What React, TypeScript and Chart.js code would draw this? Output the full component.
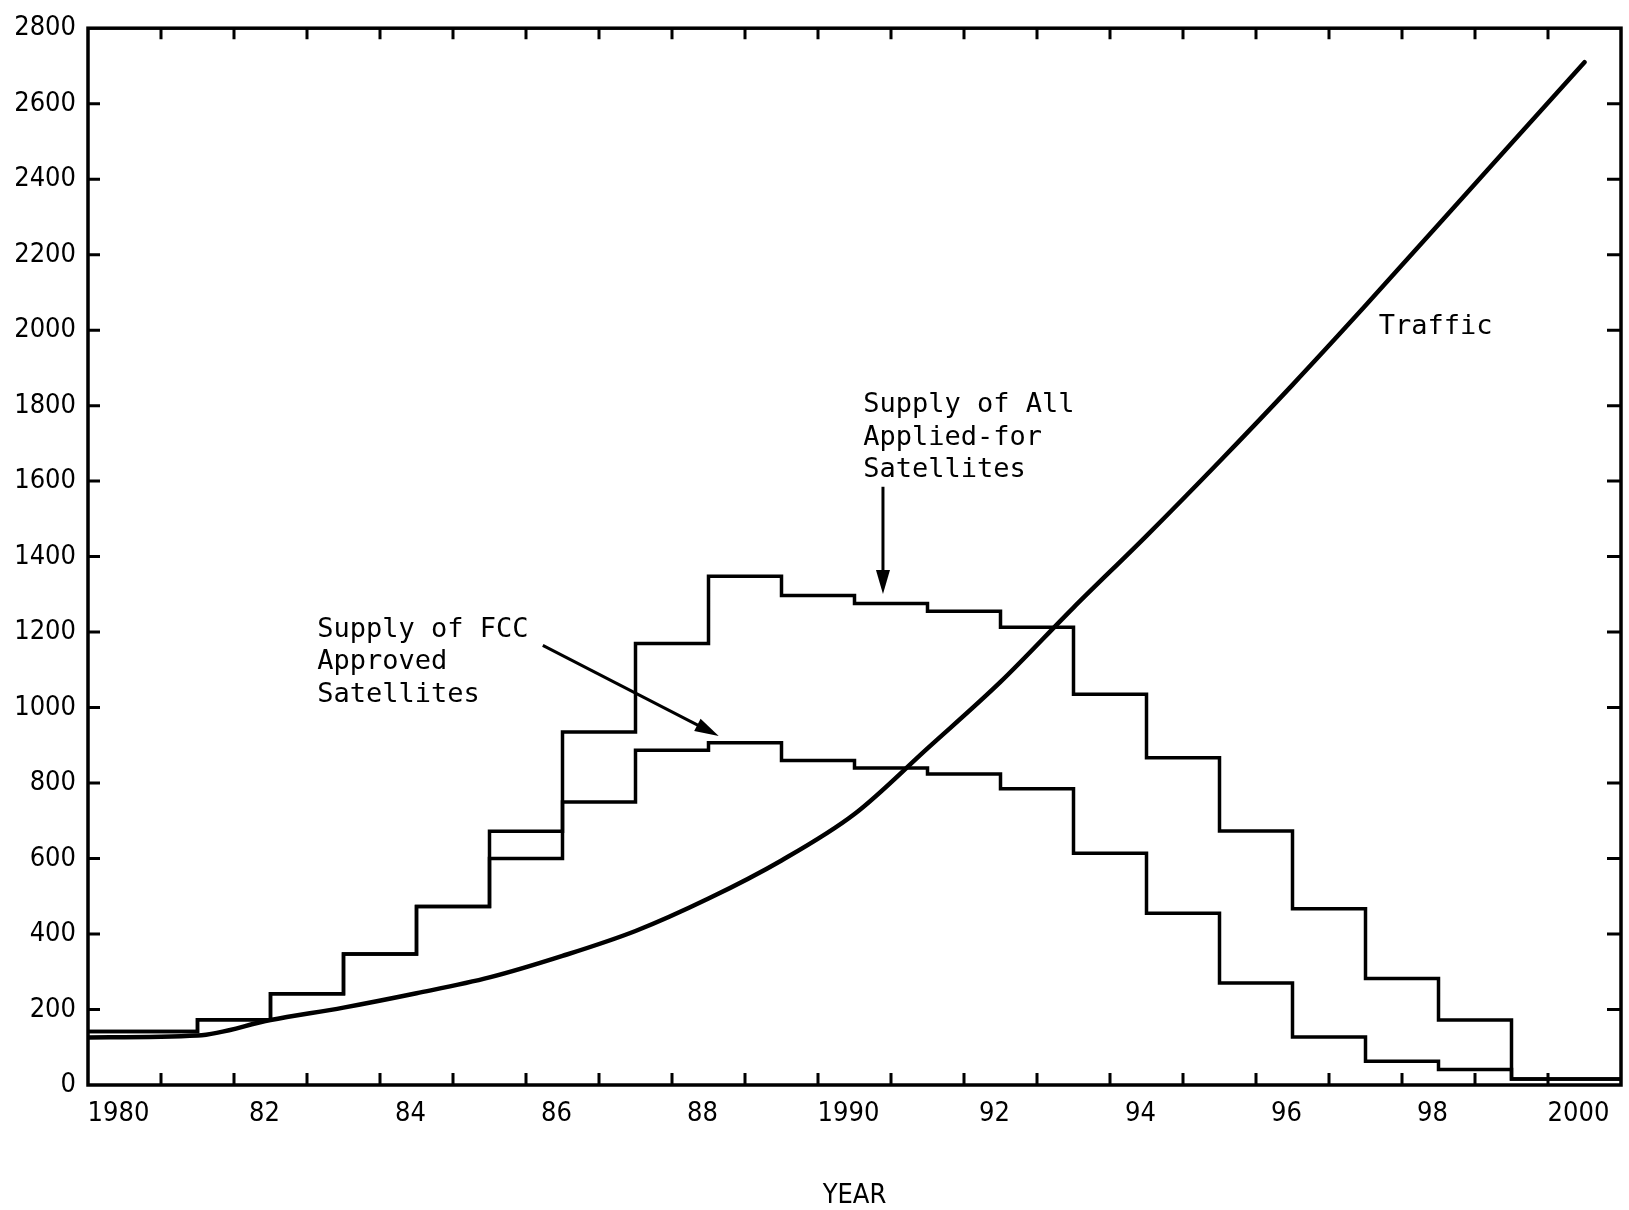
import React, { useEffect, useRef } from "react";
import { Chart, registerables } from "chart.js";

Chart.register(...registerables);

// Axis extent: the frame runs from mid-1979 to mid-2000
const X_MIN = 1979.5;
const X_MAX = 2000.5;
const Y_MIN = 0;
const Y_MAX = 2800;

const LABEL_YEARS = [1980, 1982, 1984, 1986, 1988, 1990, 1992, 1994, 1996, 1998, 2000];
const X_TICK_LABELS = ["1980", "82", "84", "86", "88", "1990", "92", "94", "96", "98", "2000"];
// inward tick marks sit between the years
const MINOR_TICK_YEARS = [
  1980.5, 1981.5, 1982.5, 1983.5, 1984.5, 1985.5, 1986.5, 1987.5, 1988.5, 1989.5,
  1990.5, 1991.5, 1992.5, 1993.5, 1994.5, 1995.5, 1996.5, 1997.5, 1998.5, 1999.5,
];
const Y_TICK_VALUES = [0, 200, 400, 600, 800, 1000, 1200, 1400, 1600, 1800, 2000, 2200, 2400, 2600, 2800];

// Supply per year: each value holds from its year until the next one
const STEP_YEARS = [
  1980, 1981, 1982, 1983, 1984, 1985, 1986, 1987, 1988, 1989,
  1990, 1991, 1992, 1993, 1994, 1995, 1996, 1997, 1998, 1999,
];
const APPLIED_SUPPLY = [
  142, 173, 242, 347, 473, 672, 935, 1170, 1348, 1297,
  1276, 1255, 1213, 1035, 867, 673, 467, 282, 172, 16,
];
const FCC_SUPPLY = [
  142, 173, 242, 347, 473, 600, 750, 887, 907, 860,
  840, 824, 785, 614, 455, 270, 127, 63, 41, 16,
];

const TRAFFIC_YEARS = [
  1980, 1981, 1982, 1983, 1984, 1985, 1986, 1987, 1988, 1989, 1990,
  1991, 1992, 1993, 1994, 1995, 1996, 1997, 1998, 1999, 2000,
];
const TRAFFIC = [
  126, 131, 172, 205, 243, 285, 342, 408, 494, 595, 718,
  892, 1068, 1265, 1455, 1652, 1855, 2065, 2280, 2495, 2710,
];

// Text notes, anchored in data units (left edge, first baseline)
const NOTES = [
  { x: 1997.18, y: 1990, lines: ["Traffic"] },
  { x: 1990.12, y: 1783, lines: ["Supply of All", "Applied-for", "Satellites"] },
  { x: 1982.64, y: 1188, lines: ["Supply of FCC", "Approved", "Satellites"] },
];
const ARROWS = [
  { from: [1990.39, 1585], to: [1990.39, 1301] },
  { from: [1985.73, 1165], to: [1988.14, 925] },
];

const AXIS_FAMILY = "'DejaVu Sans Condensed', 'Liberation Sans Narrow', 'Liberation Sans', sans-serif";
const NOTE_FONT = "27px 'DejaVu Sans Mono', 'Liberation Mono', monospace";
const NOTE_LINE_HEIGHT = 32.5;

// The 1980 entry starts at the left edge of the frame, the last one runs to the right edge
function stepPoints(years: number[], values: number[]) {
  const pts = years.map((yr, i) => ({ x: i === 0 ? X_MIN : yr, y: values[i] }));
  pts.push({ x: X_MAX, y: values[values.length - 1] });
  return pts;
}

function curvePoints(years: number[], values: number[]) {
  return years.map((yr, i) => ({ x: i === 0 ? X_MIN : yr, y: values[i] }));
}

function drawArrow(ctx: CanvasRenderingContext2D, x0: number, y0: number, x1: number, y1: number) {
  const ang = Math.atan2(y1 - y0, x1 - x0);
  const headLen = 24;
  const headHalf = 7;
  const bx = x1 - headLen * Math.cos(ang);
  const by = y1 - headLen * Math.sin(ang);
  ctx.beginPath();
  ctx.moveTo(x0, y0);
  ctx.lineTo(bx + 2 * Math.cos(ang), by + 2 * Math.sin(ang));
  ctx.stroke();
  ctx.beginPath();
  ctx.moveTo(x1, y1);
  ctx.lineTo(bx + headHalf * Math.sin(ang), by - headHalf * Math.cos(ang));
  ctx.lineTo(bx - headHalf * Math.sin(ang), by + headHalf * Math.cos(ang));
  ctx.closePath();
  ctx.fill();
}

// Boxed frame with inward tick marks, plus the text notes and arrows
const framePlugin = {
  id: "frameAndNotes",
  afterDatasetsDraw(chart: any) {
    const { ctx, chartArea: a } = chart;
    const xs = chart.scales.x;
    const ys = chart.scales.y;
    ctx.save();
    ctx.strokeStyle = "#000";
    ctx.fillStyle = "#000";
    ctx.lineWidth = 3.5;
    ctx.strokeRect(a.left, a.top, a.right - a.left, a.bottom - a.top);

    ctx.lineWidth = 3;
    ctx.beginPath();
    for (const yr of MINOR_TICK_YEARS) {
      const px = xs.getPixelForValue(yr);
      ctx.moveTo(px, a.bottom);
      ctx.lineTo(px, a.bottom - 12);
      ctx.moveTo(px, a.top);
      ctx.lineTo(px, a.top + 11);
    }
    for (const v of Y_TICK_VALUES) {
      if (v === Y_MIN || v === Y_MAX) continue;
      const py = ys.getPixelForValue(v);
      ctx.moveTo(a.left, py);
      ctx.lineTo(a.left + 12, py);
      ctx.moveTo(a.right, py);
      ctx.lineTo(a.right - 14, py);
    }
    ctx.stroke();

    ctx.font = NOTE_FONT;
    ctx.textAlign = "left";
    ctx.textBaseline = "alphabetic";
    for (const note of NOTES) {
      const px = xs.getPixelForValue(note.x);
      const py = ys.getPixelForValue(note.y);
      note.lines.forEach((line, i) => ctx.fillText(line, px, py + i * NOTE_LINE_HEIGHT));
    }

    ctx.lineWidth = 3;
    for (const arr of ARROWS) {
      drawArrow(
        ctx,
        xs.getPixelForValue(arr.from[0]),
        ys.getPixelForValue(arr.from[1]),
        xs.getPixelForValue(arr.to[0]),
        ys.getPixelForValue(arr.to[1])
      );
    }
    ctx.restore();
  },
};

export default function App() {
  const canvasRef = useRef<HTMLCanvasElement>(null);

  useEffect(() => {
    const canvas = canvasRef.current;
    if (!canvas) return;
    const chart = new Chart(canvas, {
      type: "line",
      data: {
        datasets: [
          {
            label: "Supply of All Applied-for Satellites",
            data: stepPoints(STEP_YEARS, APPLIED_SUPPLY),
            stepped: "before",
            borderColor: "#000",
            borderWidth: 3.5,
            pointRadius: 0,
            fill: false,
          },
          {
            label: "Supply of FCC Approved Satellites",
            data: stepPoints(STEP_YEARS, FCC_SUPPLY),
            stepped: "before",
            borderColor: "#000",
            borderWidth: 3.5,
            pointRadius: 0,
            fill: false,
          },
          {
            label: "Traffic",
            data: curvePoints(TRAFFIC_YEARS, TRAFFIC),
            cubicInterpolationMode: "monotone",
            borderColor: "#000",
            borderWidth: 4.5,
            borderCapStyle: "round",
            pointRadius: 0,
            fill: false,
          },
        ],
      },
      options: {
        animation: false,
        responsive: false,
        events: [],
        layout: { padding: { left: 0, right: 8, top: 20, bottom: 0 } },
        plugins: {
          legend: { display: false },
          tooltip: { enabled: false },
        },
        scales: {
          x: {
            type: "linear",
            min: X_MIN,
            max: X_MAX,
            grid: { display: false, drawTicks: false },
            border: { display: false },
            afterBuildTicks: (scale: any) => {
              scale.ticks = LABEL_YEARS.map((value) => ({ value }));
            },
            afterFit: (scale: any) => {
              scale.height = 125;
            },
            ticks: {
              autoSkip: false,
              maxRotation: 0,
              padding: 13,
              labelOffset: -6,
              color: "#000",
              font: { family: AXIS_FAMILY, size: 27 },
              callback: (_value: any, index: number) => X_TICK_LABELS[index],
            },
            title: {
              display: true,
              text: "YEAR",
              color: "#000",
              font: { family: AXIS_FAMILY, size: 27 },
              padding: { top: 0, bottom: -2 },
            },
          },
          y: {
            type: "linear",
            min: Y_MIN,
            max: Y_MAX,
            grid: { display: false, drawTicks: false },
            border: { display: false },
            afterBuildTicks: (scale: any) => {
              scale.ticks = Y_TICK_VALUES.map((value) => ({ value }));
            },
            afterFit: (scale: any) => {
              scale.width = 88;
            },
            ticks: {
              autoSkip: false,
              padding: 12,
              color: "#000",
              font: { family: AXIS_FAMILY, size: 27 },
              callback: (value: any) => String(value),
            },
          },
        },
      },
      plugins: [framePlugin],
    } as any);
    return () => chart.destroy();
  }, []);

  return (
    <div style={{ position: "fixed", left: 0, top: 0, width: 1629, height: 1210, background: "#fff" }}>
      <canvas ref={canvasRef} width={1629} height={1210} style={{ width: 1629, height: 1210, display: "block" }} />
    </div>
  );
}
